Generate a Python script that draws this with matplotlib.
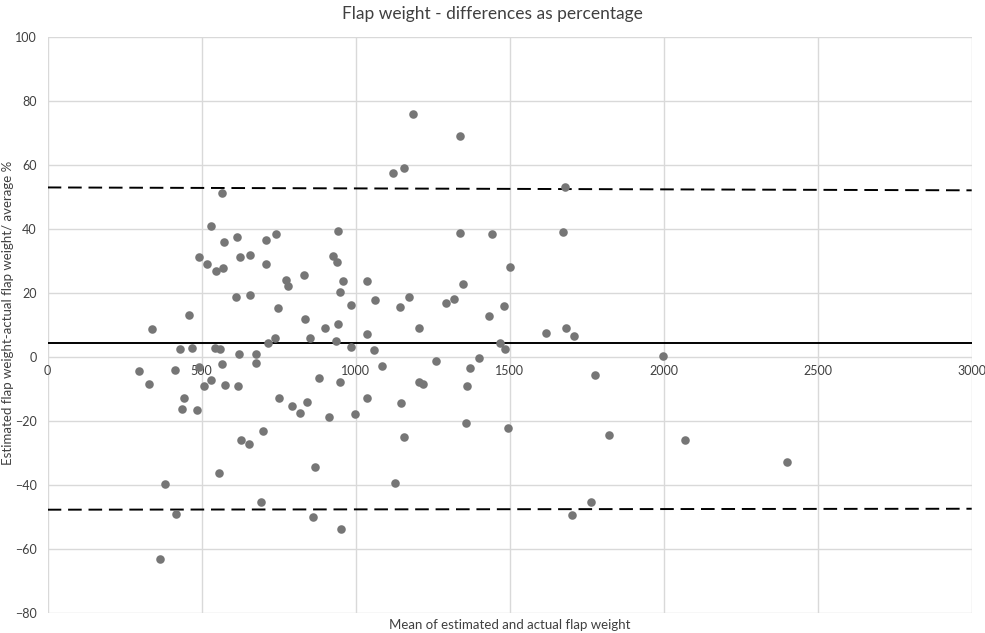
import matplotlib.pyplot as plt
import numpy as np

plt.rcParams['font.family'] = ['Lato', 'DejaVu Sans']

# mean flap weight (x) and difference as % (y)
mean_weight = [
    1120, 566, 531, 615, 572, 742, 708, 944, 492, 624, 657, 516, 708, 548, 570,
    926, 939, 831, 775, 781, 958, 1036, 948, 610, 657, 1062, 985, 748, 1145, 460,
    835, 899, 942, 339, 1036, 737, 851, 937, 715, 430, 469, 542, 559, 986, 1060,
    621, 676, 566, 676, 1086, 490, 296, 412,
    328, 529, 507, 575, 618, 444, 436, 486, 880, 948, 750, 794, 818, 842, 912,
    1037, 999, 1148, 699, 627, 655, 869, 556, 380, 1127, 693, 417, 860, 953, 366,
    1186, 1338, 1158, 1681, 1340, 1443, 1672, 1500, 1347, 1172, 1293, 1320, 1483,
    1433, 1207, 1619, 1683, 1708, 1468, 1484, 1997, 1260, 1399, 1371, 1778,
    1206, 1220, 1362, 1358, 1494, 1157, 1822, 1765, 1702, 2069, 2400,
]
diff_pct = [
    57.3, 51.3, 40.8, 37.4, 35.8, 38.2, 36.5, 39.4, 31.1, 31.1, 31.9, 29.1, 28.9, 26.7, 27.7,
    31.4, 29.5, 25.6, 23.9, 22.0, 23.7, 23.7, 20.3, 18.6, 19.3, 17.7, 16.2, 15.3, 15.5, 12.9,
    11.8, 9.0, 10.3, 8.6, 7.2, 5.9, 5.9, 4.9, 4.2, 2.3, 2.7, 2.6, 2.5, 3.1, 2.1,
    0.7, 0.9, -2.3, -1.9, -2.9, -3.1, -4.5, -4.3,
    -8.4, -7.2, -9.3, -8.8, -9.3, -12.8, -16.4, -16.7, -6.7, -7.8, -13.0, -15.4, -17.6, -14.3, -18.7,
    -12.8, -17.8, -14.4, -23.1, -26.1, -27.2, -34.6, -36.3, -39.9, -39.4, -45.3, -49.1, -50.1, -53.9, -63.1,
    75.9, 69.0, 59.0, 53.0, 38.7, 38.4, 39.1, 27.9, 22.6, 18.6, 16.7, 17.9, 15.7,
    12.7, 9.1, 7.5, 9.0, 6.4, 4.4, 2.3, 0.3, -1.3, -0.5, -3.4, -5.6,
    -8.0, -8.4, -9.3, -20.8, -22.4, -25.0, -24.6, -45.5, -49.6, -25.9, -32.9,
]

# mean difference and limits of agreement (drawn as two-point lines)
line_x = [0, 3000]
mean_line = [4.3, 4.3]
upper_limit = [52.9, 52.0]
lower_limit = [-47.8, -47.5]

fig = plt.figure(figsize=(9.85, 6.33), dpi=100)
ax = fig.add_axes([0.0484, 0.032, 0.9381, 0.910])

ax.scatter(mean_weight, diff_pct, s=38, color='#767676', zorder=3, linewidths=0)
ax.plot(line_x, mean_line, color='black', lw=1.4, zorder=2)
ax.plot(line_x, upper_limit, color='black', lw=1.4, ls=(0, (7, 3.5)), zorder=2)
ax.plot(line_x, lower_limit, color='black', lw=1.4, ls=(0, (7, 3.5)), zorder=2)

ax.set_xlim(0, 3000)
ax.set_ylim(-80, 100)
ax.set_xticks(np.arange(0, 3001, 500))
ax.set_yticks(np.arange(-80, 101, 20))
ax.grid(True, color='#d9d9d9', lw=1.0, zorder=0)
ax.set_axisbelow(True)

for side in ['top', 'right', 'left']:
    ax.spines[side].set_visible(False)
ax.spines['bottom'].set_position(('data', 0))
ax.spines['bottom'].set_visible(False)
ax.tick_params(axis='both', length=0, labelsize=9, colors='#404040')
ax.tick_params(axis='x', pad=6)
ax.tick_params(axis='y', pad=8)

fig.text(0.5, 0.978, 'Flap weight - differences as percentage',
         ha='center', va='center', fontsize=12.5, color='#404040')
fig.text(0.518, 0.012, 'Mean of estimated and actual flap weight',
         ha='center', va='center', fontsize=9.5, color='#404040')
fig.text(0.008, 0.505, 'Estimated flap weight-actual flap weight/ average %',
         ha='center', va='center', rotation=90, fontsize=9.5, color='#404040')

fig.savefig('out.png', dpi=100)
